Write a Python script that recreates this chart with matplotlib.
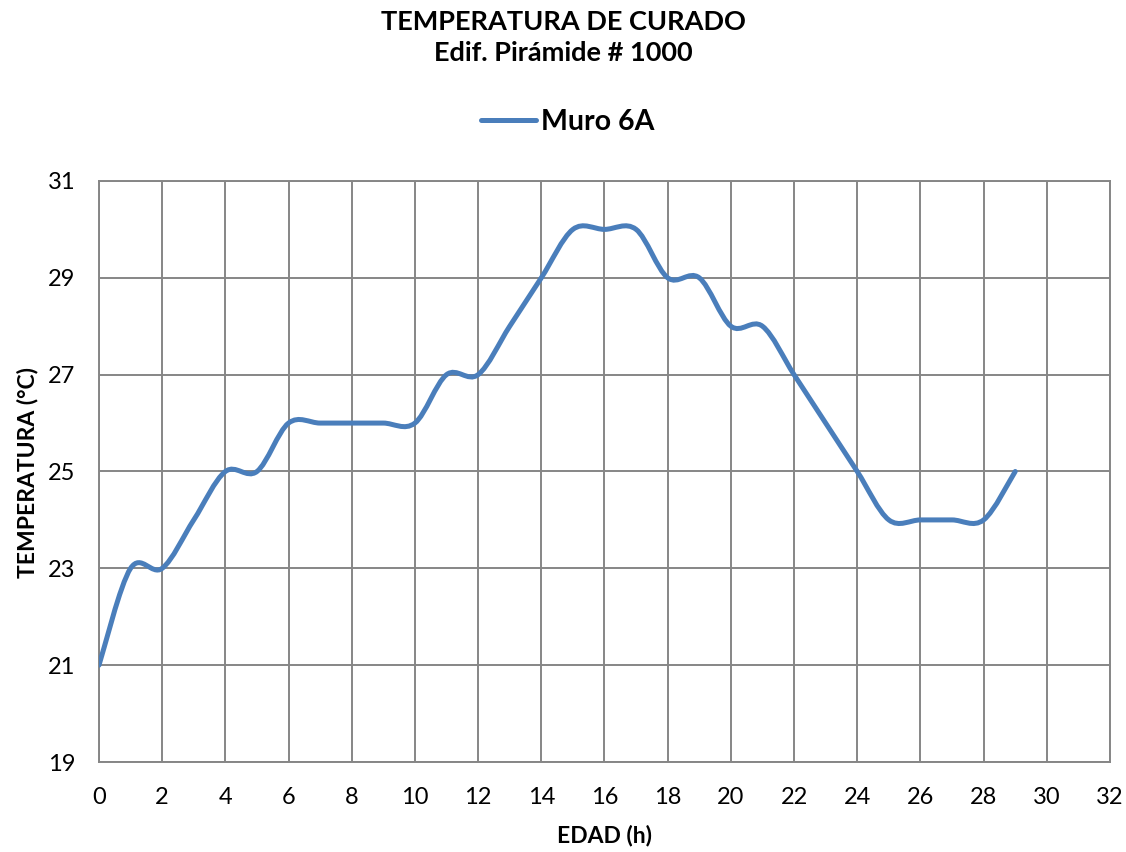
import numpy as np
import matplotlib
matplotlib.use('Agg')
import matplotlib.pyplot as plt
from matplotlib.path import Path
from matplotlib.patches import PathPatch
from matplotlib.lines import Line2D

plt.rcParams['font.family'] = ['Lato', 'DejaVu Sans']

# data
edad = [0, 1, 2, 3, 4, 5, 6, 7, 8, 9, 10, 11, 12, 13, 14, 15, 16, 17, 18, 19,
        20, 21, 22, 23, 24, 25, 26, 27, 28, 29]
temperatura = [21, 23, 23, 24, 25, 25, 26, 26, 26, 26, 26, 27, 27, 28, 29, 30, 30, 30, 29, 29,
               28, 28, 27, 26, 25, 24, 24, 24, 24, 25]
serie = 'Muro 6A'
xticks = list(range(0, 33, 2))
yticks = list(range(19, 32, 2))

line_color = '#4A7EBB'
grid_color = '#868686'


def smooth_path(x, y):
    # excel-like smoothed line: cubic bezier with catmull-rom tangents
    x = np.asarray(x, float)
    y = np.asarray(y, float)
    n = len(x)
    verts = [(x[0], y[0])]
    codes = [Path.MOVETO]
    for i in range(n - 1):
        i0 = max(i - 1, 0)
        i3 = min(i + 2, n - 1)
        c1 = (x[i] + (x[i + 1] - x[i0]) / 6., y[i] + (y[i + 1] - y[i0]) / 6.)
        c2 = (x[i + 1] - (x[i3] - x[i]) / 6., y[i + 1] - (y[i3] - y[i]) / 6.)
        verts += [c1, c2, (x[i + 1], y[i + 1])]
        codes += [Path.CURVE4] * 3
    return Path(verts, codes)


fig = plt.figure(figsize=(11.26, 8.52), dpi=100)
ax = fig.add_axes([0.0879, 0.1056, 0.8979, 0.682])

ax.add_patch(PathPatch(smooth_path(edad, temperatura), facecolor='none',
                       edgecolor=line_color, lw=3.6, capstyle='round', zorder=3))

ax.set_xlim(0, 32)
ax.set_ylim(19, 31)
ax.set_xticks(xticks)
ax.set_yticks(yticks)
ax.grid(True, color=grid_color, lw=1.4)
ax.set_axisbelow(True)
for s in ax.spines.values():
    s.set_color(grid_color)
    s.set_linewidth(1.4)
ax.tick_params(axis='both', length=0, labelsize=17)
ax.tick_params(axis='x', pad=18)
ax.tick_params(axis='y', pad=17)

# axis titles
fig.text(604.5 / 1126, 1 - 835 / 852, 'EDAD (h)', ha='center', va='center',
         fontsize=16.5, fontweight='bold')
fig.text(28 / 1126, 1 - 472 / 852, 'TEMPERATURA (°C)', ha='center', va='center',
         rotation=90, fontsize=16.5, fontweight='bold')

# chart title
fig.text(0.5, 1 - 30 / 852, 'TEMPERATURA DE CURADO', ha='center', va='baseline',
         fontsize=19.5, fontweight='bold')
fig.text(0.5, 1 - 61 / 852, 'Edif. Pirámide # 1000', ha='center', va='baseline',
         fontsize=19.5, fontweight='bold')

handle = Line2D([], [], color=line_color, lw=3.6, solid_capstyle='round')
fig.legend([handle], [serie], loc='center', bbox_to_anchor=(567.5 / 1126, 1 - 122 / 852),
           frameon=False, prop={'size': 20.5, 'weight': 'bold'},
           handlelength=1.93, handletextpad=0.18, borderpad=0)

fig.savefig('out.png', dpi=100)
